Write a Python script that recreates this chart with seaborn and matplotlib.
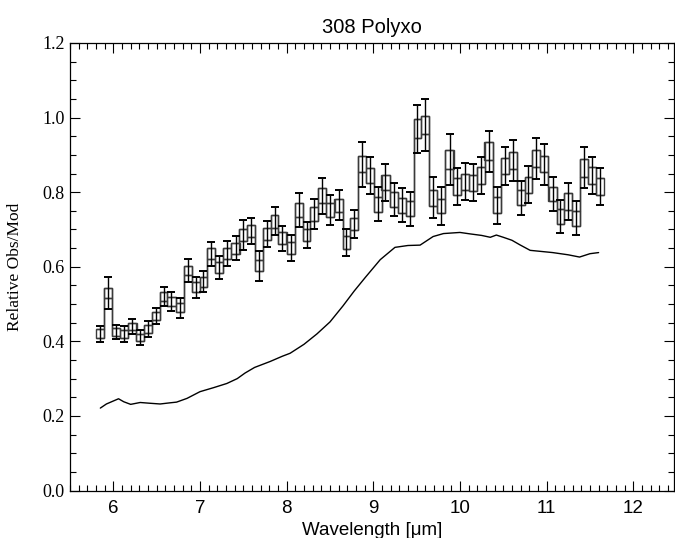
import numpy as np
import pandas as pd
import matplotlib
matplotlib.use("Agg")
import matplotlib.pyplot as plt
from matplotlib.ticker import MultipleLocator, FormatStrFormatter
import seaborn as sns

# ---------------- data ----------------
wavelength = [5.85, 5.94, 6.03, 6.12, 6.22, 6.31, 6.40, 6.49, 6.58, 6.67,
              6.77, 6.86, 6.95, 7.04, 7.13, 7.22, 7.31, 7.41, 7.50, 7.59,
              7.68, 7.77, 7.86, 7.95, 8.05, 8.14, 8.23, 8.32, 8.41, 8.50,
              8.60, 8.69, 8.78, 8.87, 8.96, 9.05, 9.14, 9.24, 9.33, 9.42,
              9.51, 9.60, 9.69, 9.78, 9.88, 9.97, 10.06, 10.15, 10.24, 10.33,
              10.43, 10.52, 10.61, 10.70, 10.79, 10.88, 10.97, 11.07, 11.16, 11.25,
              11.34, 11.43, 11.52, 11.62]

ratio = [0.420, 0.530, 0.425, 0.420, 0.440, 0.410, 0.433, 0.468, 0.520, 0.507,
         0.490, 0.590, 0.545, 0.560, 0.635, 0.598, 0.635, 0.650, 0.685, 0.695,
         0.603, 0.688, 0.722, 0.676, 0.650, 0.752, 0.685, 0.742, 0.790, 0.752,
         0.765, 0.665, 0.715, 0.875, 0.845, 0.768, 0.825, 0.780, 0.765, 0.755,
         0.970, 0.980, 0.785, 0.763, 0.887, 0.815, 0.828, 0.825, 0.845, 0.910,
         0.765, 0.870, 0.885, 0.785, 0.820, 0.890, 0.875, 0.795, 0.735, 0.775,
         0.730, 0.866, 0.845, 0.815]

ratio_err = [0.021, 0.042, 0.020, 0.022, 0.021, 0.021, 0.022, 0.022, 0.025, 0.026,
             0.027, 0.030, 0.028, 0.028, 0.032, 0.030, 0.033, 0.033, 0.040, 0.035,
             0.040, 0.035, 0.037, 0.034, 0.035, 0.045, 0.035, 0.040, 0.048, 0.040,
             0.040, 0.035, 0.037, 0.060, 0.050, 0.045, 0.050, 0.045, 0.045, 0.045,
             0.065, 0.070, 0.055, 0.050, 0.068, 0.050, 0.050, 0.050, 0.050, 0.055,
             0.050, 0.050, 0.055, 0.045, 0.050, 0.055, 0.055, 0.045, 0.045, 0.050,
             0.045, 0.055, 0.050, 0.050]

box_half = [0.012, 0.014, 0.010, 0.010, 0.010, 0.010, 0.010, 0.010, 0.012, 0.012,
            0.012, 0.013, 0.013, 0.013, 0.014, 0.014, 0.014, 0.015, 0.016, 0.016,
            0.015, 0.016, 0.017, 0.016, 0.016, 0.018, 0.016, 0.018, 0.020, 0.018,
            0.018, 0.017, 0.017, 0.022, 0.020, 0.020, 0.020, 0.020, 0.020, 0.020,
            0.025, 0.025, 0.022, 0.020, 0.025, 0.022, 0.022, 0.022, 0.022, 0.025,
            0.022, 0.022, 0.022, 0.020, 0.022, 0.022, 0.022, 0.020, 0.020, 0.022,
            0.020, 0.024, 0.022, 0.022]

model_wl = [5.85, 5.92, 6.00, 6.06, 6.12, 6.20, 6.31, 6.42, 6.54, 6.65,
            6.73, 6.85, 7.00, 7.16, 7.31, 7.43, 7.52, 7.63, 7.81, 7.95,
            8.04, 8.20, 8.35, 8.50, 8.65, 8.78, 8.91, 9.08, 9.25, 9.40,
            9.54, 9.69, 9.81, 10.00, 10.12, 10.25, 10.35, 10.42, 10.50, 10.60,
            10.69, 10.81, 11.07, 11.25, 11.38, 11.50, 11.60]
model_val = [0.221, 0.232, 0.240, 0.246, 0.238, 0.231, 0.236, 0.234, 0.232, 0.235,
             0.237, 0.247, 0.265, 0.276, 0.287, 0.300, 0.315, 0.330, 0.346, 0.360,
             0.368, 0.392, 0.420, 0.452, 0.495, 0.535, 0.572, 0.619, 0.652, 0.657,
             0.658, 0.681, 0.689, 0.692, 0.688, 0.684, 0.679, 0.685, 0.679, 0.671,
             0.659, 0.644, 0.638, 0.632, 0.626, 0.635, 0.638]

title = "308 Polyxo"
xlabel = "Wavelength [\u03bcm]"
ylabel = "Relative Obs/Mod"

# ---------------- style ----------------
sns.set_theme(style="ticks")
plt.rcParams["font.family"] = ["Liberation Sans", "DejaVu Sans"]
plt.rcParams.update({
    "xtick.direction": "in", "ytick.direction": "in",
    "xtick.top": True, "ytick.right": True,
    "axes.edgecolor": "black", "xtick.color": "black", "ytick.color": "black",
})

fig = plt.figure(figsize=(6.75, 5.38), dpi=100)
ax = fig.add_axes([70 / 675, 1 - 490.5 / 538, 604 / 675, (490.5 - 43) / 538])

wl = np.array(wavelength)
v = np.array(ratio)
e = np.array(ratio_err)
b = np.array(box_half)
d = wl[1] - wl[0]
edges = np.concatenate([[wl[0] - d / 2], (wl[:-1] + wl[1:]) / 2, [wl[-1] + d / 2]])
widths = np.diff(edges)

step_col = "#3a3a3a"
ax.stairs(v + b, edges, color=step_col, lw=1.0, baseline=None)
ax.stairs(v - b, edges, color=step_col, lw=1.0, baseline=None)
ax.bar(wl, 2 * b, bottom=v - b, width=widths, fill=False,
       edgecolor=step_col, linewidth=1.0, align="center")
ax.errorbar(wl, v, yerr=e, fmt="none", ecolor="black", elinewidth=1.0,
            capsize=2.6, capthick=1.4)

df_model = pd.DataFrame({"wl": model_wl, "val": model_val})
sns.lineplot(data=df_model, x="wl", y="val", ax=ax, color="black", lw=1.0,
             sort=False, estimator=None)

ax.set_xlim(5.5, 12.47)
ax.set_ylim(0, 1.2)
ax.xaxis.set_major_locator(MultipleLocator(1))
ax.xaxis.set_minor_locator(MultipleLocator(0.1))
ax.yaxis.set_major_locator(MultipleLocator(0.2))
ax.yaxis.set_minor_locator(MultipleLocator(0.05))
ax.yaxis.set_major_formatter(FormatStrFormatter("%.1f"))
ax.tick_params(which="major", length=7.5, width=0.8, direction="in",
               top=True, right=True)
ax.tick_params(which="minor", length=4, width=0.8, direction="in",
               top=True, right=True)
ax.tick_params(axis="x", which="major", pad=7, labelsize=13.5)
ax.tick_params(axis="y", which="major", pad=4, labelsize=13)
for lab in ax.get_yticklabels():
    lab.set_family(["Liberation Serif", "DejaVu Serif"])
for s in ax.spines.values():
    s.set_linewidth(0.9)
    s.set_color("black")

ax.set_title(title, fontsize=14.5, pad=7, color="black")
ax.set_xlabel(xlabel, fontsize=13.5, color="black")
ax.set_ylabel(ylabel, fontsize=12.5, color="black",
              family=["Liberation Serif", "DejaVu Serif"])
ax.xaxis.set_label_coords(0.5, -0.071)
ax.yaxis.set_label_coords(-0.078, 0.5)

fig.savefig("out.png", dpi=100)
